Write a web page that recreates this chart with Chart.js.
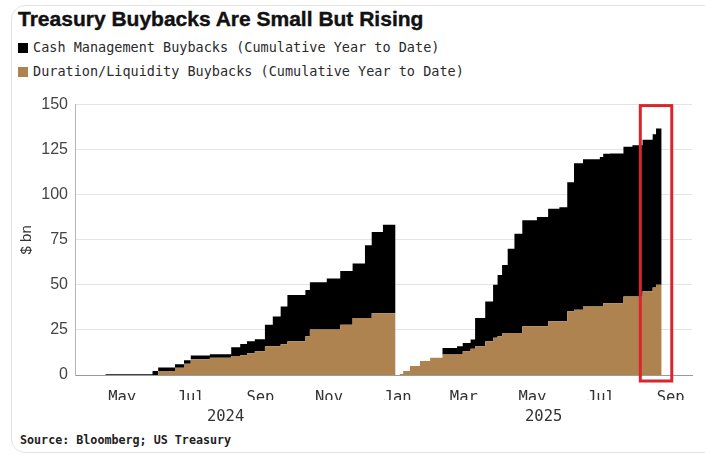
<!DOCTYPE html>
<html>
<head>
<meta charset="utf-8">
<script src="https://cdn.jsdelivr.net/npm/chart.js@4.4.1/dist/chart.umd.min.js"></script>
<style>
  body { margin: 0; width: 705px; height: 455px; overflow: hidden; position: relative; background: #fff; }
  .frame { position: absolute; left: 11px; top: 5px; width: 720px; height: 446px; border: 1px solid #e3e3e3; border-radius: 14px; }
  #title { position: absolute; left: 18px; top: 7px; font: bold 21px "Liberation Sans", Arial, sans-serif; color: #111; white-space: nowrap; -webkit-text-stroke: 0.4px #111; }
  #legend { position: absolute; left: 18px; top: 37px; font: 13.5px "DejaVu Sans Mono", monospace; color: #2b2b2b; }
  #legend div { height: 24px; line-height: 20px; white-space: nowrap; }
  #legend span.sw { display: inline-block; width: 10px; height: 10px; margin-right: 5px; vertical-align: -1px; }
  #chartWrap { position: absolute; left: 0; top: 88px; }
  #source { position: absolute; left: 20px; top: 433px; font: bold 11.7px "DejaVu Sans Mono", monospace; color: #222; white-space: nowrap; }
</style>
</head>
<body>
<div class="frame"></div>
<div id="title">Treasury Buybacks Are Small But Rising</div>
<div id="legend"></div>
<div id="chartWrap"><canvas id="chart" width="705" height="339"></canvas></div>
<div id="source">Source: Bloomberg; US Treasury</div>
<script>
// ---------------------- Data ----------------------
const dates = [
  "2024-04-16", "2024-05-28", "2024-06-02", "2024-06-17", "2024-06-25", "2024-07-01",
  "2024-07-18", "2024-08-06", "2024-08-14", "2024-08-20", "2024-08-27", "2024-09-05",
  "2024-09-12", "2024-09-19", "2024-09-25", "2024-10-11", "2024-10-15", "2024-10-30",
  "2024-11-11", "2024-11-22", "2024-12-03", "2024-12-09", "2024-12-19", "2024-12-30",
  "2025-01-03", "2025-01-06", "2025-01-12", "2025-01-21", "2025-01-30", "2025-02-10",
  "2025-02-23", "2025-02-28", "2025-03-07", "2025-03-11", "2025-03-20", "2025-03-27",
  "2025-03-31", "2025-04-04", "2025-04-09", "2025-04-15", "2025-04-22", "2025-05-05",
  "2025-05-15", "2025-05-25", "2025-06-01", "2025-06-07", "2025-06-15", "2025-06-30",
  "2025-07-03", "2025-07-09", "2025-07-21", "2025-07-29", "2025-08-07", "2025-08-16",
  "2025-08-19", "2025-08-24"
];

// $ bn, cumulative year to date
const cashMgmt = [
  0.4, 2.2, 2.0, 2.0, 2.0, 2.0,
  2.0, 4.9, 6.2, 6.7, 6.7, 11.9,
  16.5, 21.0, 25.7, 25.7, 26.2, 28.4,
  29.8, 30.3, 40.4, 45.0, 49.1, 0,
  0, 0, 0, 0, 0, 3.6,
  4.6, 4.6, 5.2, 15.6, 22.1, 29.4,
  34.0, 37.7, 46.7, 55.1, 58.8, 60.6,
  62.4, 63.3, 71.6, 81.3, 81.7, 83.0,
  83.0, 83.1, 83.1, 84.0, 84.0, 85.0,
  86.8, 86.8
];

const durationLiq = [
  0, 0, 2.2, 4.0, 6.2, 8.8,
  9.5, 10.5, 11.0, 12.0, 13.2, 16.0,
  16.0, 17.0, 18.7, 21.5, 25.2, 25.2,
  27.9, 31.6, 31.6, 34.3, 34.3, 0,
  0.5, 2.2, 5.0, 7.7, 9.5, 11.4,
  11.4, 13.2, 14.5, 16.0, 18.7, 20.6,
  21.5, 23.3, 23.3, 23.3, 27.0, 27.0,
  29.8, 29.8, 35.3, 36.2, 38.0, 38.0,
  39.8, 39.8, 43.5, 43.5, 46.5, 48.5,
  50.0, 50.0
];

const seriesLabels = [
  "Cash Management Buybacks (Cumulative Year to Date)",
  "Duration/Liquidity Buybacks (Cumulative Year to Date)"
];
const seriesColors = ["#000000", "#ae8350"];

const monthTickDates = ["2024-05-01", "2024-07-01", "2024-09-01", "2024-11-01", "2025-01-01",
                        "2025-03-01", "2025-05-01", "2025-07-01", "2025-09-01"];
const monthTickLabels = ["May", "Jul", "Sep", "Nov", "Jan", "Mar", "May", "Jul", "Sep"];
const yearTickDates = ["2024-08-01", "2025-05-11"];
const yearTickLabels = ["2024", "2025"];
const yTicks = [0, 25, 50, 75, 100, 125, 150];
const xRange = ["2024-03-20", "2025-09-20"];
const highlightRange = ["2025-08-05", "2025-09-02"];

// days since 2024-01-01
const dayNum = s => (Date.parse(s + "T00:00:00Z") - Date.UTC(2024, 0, 1)) / 864e5;

// ---------------------- Legend ----------------------
const legendEl = document.getElementById("legend");
seriesLabels.forEach((lbl, i) => {
  const row = document.createElement("div");
  row.innerHTML = `<span class="sw" style="background:${seriesColors[i]}"></span>${lbl}`;
  legendEl.appendChild(row);
});

// ---------------------- Highlight box ----------------------
const highlightBox = {
  id: "highlightBox",
  afterDatasetsDraw(chart) {
    const { ctx, scales: { x, y } } = chart;
    const x0 = x.getPixelForValue(dayNum(highlightRange[0]));
    const x1 = x.getPixelForValue(dayNum(highlightRange[1]));
    const top = y.getPixelForValue(150) + 1;
    const bottom = y.getPixelForValue(0) + 6;
    ctx.save();
    ctx.strokeStyle = "#d9262e";
    ctx.lineWidth = 3;
    ctx.strokeRect(x0, top, x1 - x0, bottom - top);
    ctx.restore();
  }
};

// ---------------------- Chart ----------------------
const toPoints = vals => vals.map((v, i) => ({ x: dayNum(dates[i]), y: v }));

new Chart(document.getElementById("chart"), {
  type: "line",
  data: {
    datasets: [
      {
        label: seriesLabels[1],
        data: toPoints(durationLiq),
        backgroundColor: seriesColors[1],
        borderWidth: 0,
        pointRadius: 0,
        stepped: true,
        fill: "origin"
      },
      {
        label: seriesLabels[0],
        data: toPoints(cashMgmt),
        backgroundColor: seriesColors[0],
        borderWidth: 0,
        pointRadius: 0,
        stepped: true,
        fill: "-1"
      }
    ]
  },
  options: {
    responsive: false,
    animation: false,
    layout: { padding: { top: 14, right: 13, left: 0, bottom: 0 } },
    plugins: {
      legend: { display: false },
      tooltip: { enabled: false }
    },
    scales: {
      x: {
        type: "linear",
        min: dayNum(xRange[0]),
        max: dayNum(xRange[1]),
        weight: 0,
        grid: { display: false },
        border: { display: true, color: "#9a9a9a", width: 1 },
        afterBuildTicks: s => { s.ticks = monthTickDates.map(d => ({ value: dayNum(d) })); },
        afterFit: s => { s.height = 25; },
        ticks: {
          autoSkip: false,
          maxRotation: 0,
          padding: 6,
          color: "#333",
          font: { family: "DejaVu Sans Mono", size: 15.5 },
          callback: (v, i) => monthTickLabels[i]
        }
      },
      x2: {
        type: "linear",
        position: "bottom",
        min: dayNum(xRange[0]),
        max: dayNum(xRange[1]),
        weight: 1,
        grid: { display: false },
        border: { display: false },
        afterBuildTicks: s => { s.ticks = yearTickDates.map(d => ({ value: dayNum(d) })); },
        afterFit: s => { s.height = 27; },
        ticks: {
          autoSkip: false,
          maxRotation: 0,
          padding: 0,
          color: "#333",
          font: { family: "DejaVu Sans Mono", size: 15.5 },
          callback: (v, i) => yearTickLabels[i]
        }
      },
      y: {
        stacked: true,
        min: 0,
        max: 150,
        afterBuildTicks: s => { s.ticks = yTicks.map(v => ({ value: v })); },
        afterFit: s => { s.width = 75; },
        grid: { color: "#e4e4e4", drawTicks: false },
        border: { display: true, color: "#b5b5b5" },
        title: {
          display: true,
          text: "$ bn",
          color: "#333",
          padding: { top: 18, bottom: 0 },
          font: { family: "Liberation Sans", size: 15 }
        },
        ticks: {
          padding: 7,
          color: "#444",
          font: { family: "Liberation Sans", size: 16 }
        }
      }
    }
  },
  plugins: [highlightBox]
});
</script>
</body>
</html>
